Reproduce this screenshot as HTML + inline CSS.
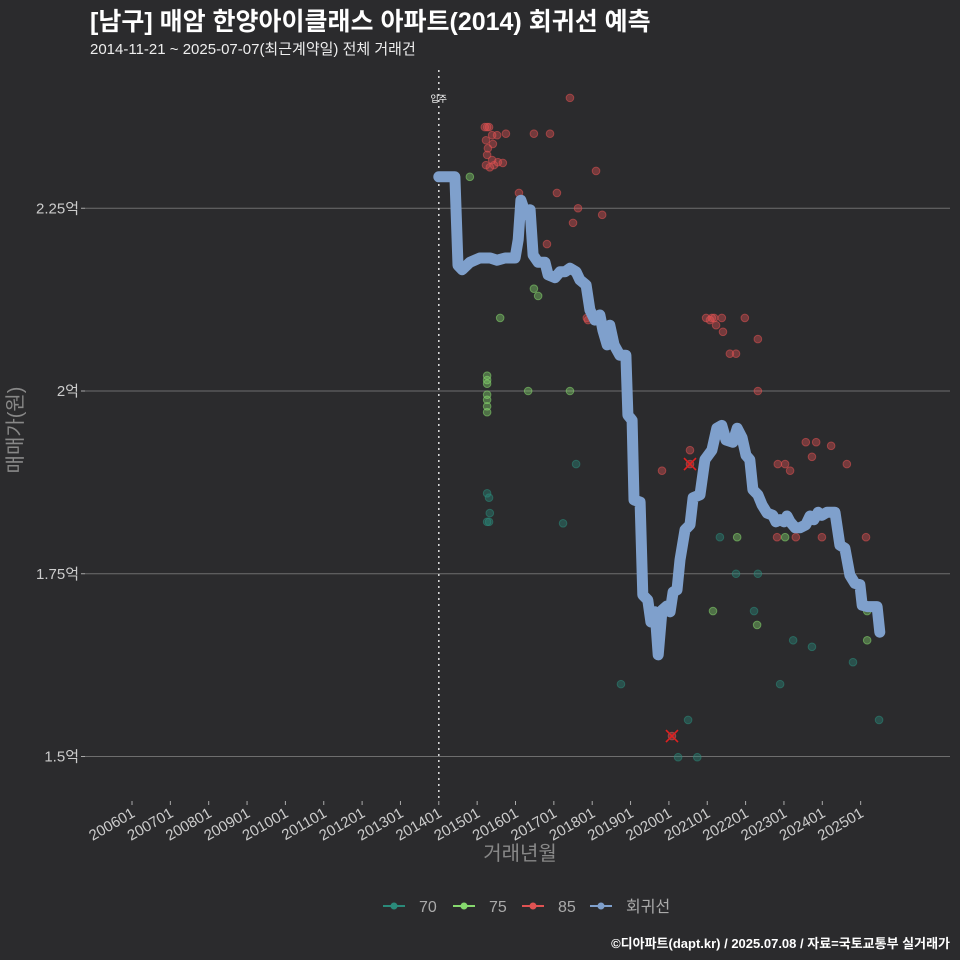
<!DOCTYPE html>
<html><head><meta charset="utf-8">
<style>
html,body{margin:0;background:#2b2b2d;overflow:hidden;width:960px;height:960px;}
svg{display:block;}
svg text{font-family:"Liberation Sans","Noto Sans CJK KR",sans-serif;}
</style></head>
<body>
<svg id="chart" width="960" height="960" xmlns="http://www.w3.org/2000/svg">
<rect width="960" height="960" fill="#2b2b2d"/>
<text x="90" y="30" fill="#fff" font-size="25" font-weight="bold">[남구] 매암 한양아이클래스 아파트(2014) 회귀선 예측</text>
<text x="90" y="54" fill="#eee" font-size="15">2014-11-21 ~ 2025-07-07(최근계약일) 전체 거래건</text>
<g id="grid"></g><g id="xaxis"></g><g id="pts"></g><g id="line"></g>
<text x="0" y="0" transform="translate(22,430) rotate(-90)" text-anchor="middle" fill="#888" font-size="20">매매가(원)</text>
<text x="520" y="860" text-anchor="middle" fill="#888" font-size="20">거래년월</text>
<g id="legend"></g>
<text x="950" y="948" text-anchor="end" fill="#fff" font-size="13" font-weight="bold">©디아파트(dapt.kr) / 2025.07.08 / 자료=국토교통부 실거래가</text>
</svg>
<script>
const yTicks=[1.5,1.75,2,2.25];
const yTickLabels=["1.5억","1.75억","2억","2.25억"];
const xTickYears=[2006,2007,2008,2009,2010,2011,2012,2013,2014,2015,2016,2017,2018,2019,2020,2021,2022,2023,2024,2025];
const moveInYear=2014.0;
const lineYears=[2014.0,2014.42,2014.5,2014.61,2014.81,2015.07,2015.34,2015.52,2015.73,2015.99,2016.07,2016.14,2016.27,2016.38,2016.46,2016.59,2016.77,2016.85,2017.03,2017.16,2017.29,2017.42,2017.58,2017.68,2017.84,2017.94,2018.07,2018.2,2018.28,2018.39,2018.46,2018.57,2018.72,2018.88,2018.93,2019.04,2019.09,2019.25,2019.32,2019.45,2019.53,2019.64,2019.72,2019.82,2019.95,2020.03,2020.11,2020.21,2020.29,2020.42,2020.55,2020.63,2020.81,2020.94,2021.12,2021.25,2021.38,2021.49,2021.67,2021.78,2021.91,2022.01,2022.11,2022.19,2022.32,2022.43,2022.56,2022.71,2022.79,2022.9,2023.0,2023.08,2023.16,2023.29,2023.42,2023.57,2023.68,2023.78,2023.89,2023.99,2024.12,2024.33,2024.46,2024.59,2024.72,2024.85,2024.98,2025.04,2025.17,2025.43,2025.5];
const lineValues=[2.293,2.293,2.172,2.166,2.176,2.182,2.182,2.179,2.182,2.182,2.207,2.261,2.241,2.248,2.186,2.176,2.176,2.159,2.155,2.163,2.163,2.168,2.163,2.152,2.145,2.111,2.097,2.104,2.083,2.063,2.09,2.063,2.049,2.049,1.967,1.96,1.851,1.848,1.721,1.714,1.684,1.698,1.639,1.7,1.706,1.698,1.725,1.728,1.769,1.81,1.817,1.854,1.858,1.906,1.919,1.949,1.953,1.933,1.93,1.949,1.936,1.912,1.906,1.865,1.858,1.844,1.833,1.83,1.821,1.824,1.821,1.829,1.821,1.813,1.813,1.817,1.829,1.824,1.834,1.83,1.834,1.834,1.789,1.785,1.748,1.737,1.735,1.707,1.705,1.705,1.67];
const types=["70","75","85"];
const typeColors={"70":"#2a8a7a","75":"#86d96e","85":"#e05252"};
const ptYears=[2017.42,2015.2,2015.26,2015.31,2015.39,2015.23,2015.41,2015.28,2015.26,2015.39,2015.54,2015.67,2015.23,2015.33,2015.44,2016.48,2016.9,2015.75,2015.52,2016.09,2017.08,2018.1,2017.63,2017.5,2018.26,2016.82,2017.86,2017.89,2020.55,2020.08,2019.82,2020.55,2020.97,2021.12,2021.07,2021.23,2021.38,2021.41,2021.59,2021.75,2021.98,2022.32,2022.32,2022.84,2023.03,2023.16,2023.57,2023.84,2023.73,2024.23,2024.64,2023.31,2022.82,2023.99,2025.14,2021.18,
2014.81,2015.6,2016.33,2017.42,2015.26,2015.26,2015.26,2015.26,2015.26,2015.26,2015.26,2016.48,2016.59,2021.78,2022.3,2023.03,2021.15,2025.17,2025.17,
2015.26,2015.31,2015.33,2015.26,2015.31,2017.58,2017.24,2018.75,2021.75,2021.33,2022.32,2022.22,2022.9,2023.24,2023.73,2024.8,2025.48,2020.5,2020.24,2020.74];
const ptValues=[2.401,2.361,2.361,2.361,2.35,2.343,2.338,2.332,2.323,2.316,2.313,2.312,2.309,2.306,2.309,2.352,2.352,2.352,2.35,2.271,2.271,2.301,2.25,2.23,2.241,2.201,2.1,2.097,1.9,1.528,1.891,1.919,2.1,2.1,2.097,2.09,2.1,2.081,2.051,2.051,2.1,2.071,2.0,1.9,1.9,1.891,1.93,1.93,1.91,1.925,1.9,1.8,1.8,1.8,1.8,2.1,
2.293,2.1,2.0,2.0,2.021,2.015,2.01,1.995,1.988,1.979,1.971,2.14,2.13,1.8,1.68,1.8,1.699,1.699,1.659,
1.86,1.854,1.833,1.821,1.821,1.9,1.819,1.599,1.75,1.8,1.75,1.699,1.599,1.659,1.65,1.629,1.55,1.55,1.499,1.499];
const ptTypes=[];
for(let i=0;i<56;i++)ptTypes.push("85");
for(let i=0;i<19;i++)ptTypes.push("75");
for(let i=0;i<20;i++)ptTypes.push("70");
const crossYears=[2020.55,2020.08];
const crossValues=[1.9,1.528];

const NS="http://www.w3.org/2000/svg";
const X=yr=>132+(yr-2006)*38.35;
const Y=v=>391-(v-2)*731;
function mk(tag,attrs,parent){const e=document.createElementNS(NS,tag);for(const k in attrs)e.setAttribute(k,attrs[k]);parent.appendChild(e);return e;}
const grid=document.getElementById('grid');
yTicks.forEach((t,i)=>{
  const l=mk('line',{x1:85,x2:950,y1:Y(t),y2:Y(t),stroke:'#6e6e6e','stroke-width':1},grid);
  
  
  const tk=mk('line',{x1:81,x2:85,y1:Y(t),y2:Y(t),stroke:'#aaa'},grid);
  
  
  const tx=mk('text',{x:79,y:Y(t)+5,'text-anchor':'end',fill:'#ccc','font-size':15},grid);
  tx.textContent=yTickLabels[i];
  
  
});
const xa=document.getElementById('xaxis');
xTickYears.forEach(yr=>{
  const x=X(yr);
  const tk=mk('line',{x1:x,x2:x,y1:801,y2:805,stroke:'#aaa'},xa);
  
  
  const tx=mk('text',{x:0,y:0,transform:`translate(${x+4},${816}) rotate(-30)`,'text-anchor':'end',fill:'#ccc','font-size':15},xa);
  tx.textContent=yr+"01";
  
  
});
const mv=mk('line',{x1:X(moveInYear),x2:X(moveInYear),y1:70,y2:800,stroke:'#ddd','stroke-width':1.5,'stroke-dasharray':'2,4'},xa);


const mvt=mk('text',{x:X(moveInYear),y:102,'text-anchor':'middle',fill:'#fff','font-size':9},xa);
mvt.textContent="입주";



const pts=document.getElementById('pts');
ptYears.forEach((yr,i)=>{
  const c=mk('circle',{cx:X(yr),cy:Y(ptValues[i]),r:3.8,fill:typeColors[ptTypes[i]],'fill-opacity':0.4,stroke:typeColors[ptTypes[i]],'stroke-opacity':0.55},pts);
  
  
});
crossYears.forEach((yr,i)=>{
  const x=X(yr),y=Y(crossValues[i]);
  const p=mk('path',{d:`M${x-6},${y-6}L${x+6},${y+6}M${x-6},${y+6}L${x+6},${y-6}`,stroke:'#e02020','stroke-width':1.6},pts);
  
  
});
const lg=document.getElementById('line');
const d=lineYears.map((yr,i)=>(i?'L':'M')+X(yr).toFixed(1)+','+Y(lineValues[i]).toFixed(1)).join('');
const pl=mk('path',{d:d,fill:'none',stroke:'#7fa0cc','stroke-width':11,'stroke-linejoin':'round','stroke-linecap':'round'},lg);



const leg=document.getElementById('legend');
const items=[["70","#2a8a7a",383],["75","#86d96e",453],["85","#e05252",522],["회귀선","#7fa0cc",590]];
items.forEach(it=>{
  const g=mk('g',{},leg);
  
  
  mk('line',{x1:it[2],x2:it[2]+22,y1:906,y2:906,stroke:it[1],'stroke-width':2},g);
  mk('circle',{cx:it[2]+11,cy:906,r:3.5,fill:it[1]},g);
  const t=mk('text',{x:it[2]+36,y:912,fill:'#aaa','font-size':16},g);
  t.textContent=it[0];
});
</script>
</body></html>
